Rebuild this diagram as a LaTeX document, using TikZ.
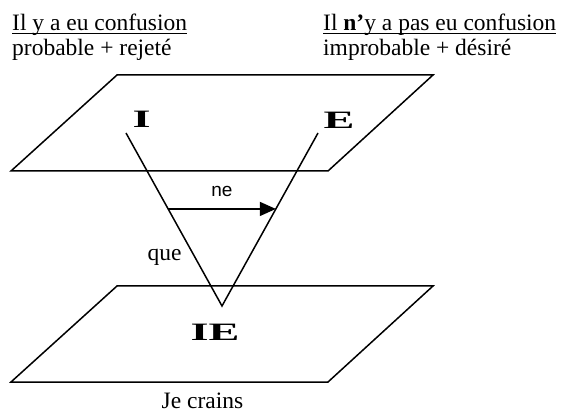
\documentclass[tikz,border=0pt]{standalone}
\usepackage{fontspec}
\setmainfont{Liberation Serif}
\setsansfont{Liberation Sans}
\usepackage{graphicx}
\usetikzlibrary{arrows.meta, calc}
\tikzset{
  plane/.style={
    draw, line width=1.5pt, line join=miter
  },
  leg/.style={
    draw, line width=1.5pt
  },
  negarr/.style={
    draw, line width=1.5pt, -{Triangle[length=16pt, width=14pt]}
  },
  caption/.style={
    inner sep=0pt, anchor=base west, font=\fontsize{23.5}{28}\selectfont
  },
  textlab/.style={
    inner sep=0pt, anchor=base, font=\fontsize{23.5}{28}\selectfont
  },
  pole/.style={
    inner sep=0pt, anchor=base, font=\fontsize{25}{30}\selectfont\bfseries
  },
  sflab/.style={
    inner sep=0pt, anchor=base, font=\sffamily\fontsize{19}{23}\selectfont
  },
  uline/.style={
    draw, line width=1.3pt
  },
}
\newcommand{\wideletters}[1]{\scalebox{1.85}[1]{#1}}

\begin{document}
\begin{tikzpicture}[x=1pt, y=-1pt]
\useasboundingbox (0,0) rectangle (563,417);

% ── Headers ──────────────────────────────────────────────────────────────
\node[caption] (hdL)  at (12,31)  {Il y a eu confusion};
\node[caption] (subL) at (12,56)  {probable + rejeté};
\node[caption] (hdR)  at (323,31) {Il \textbf{n'}y a pas eu confusion};
\node[caption] (subR) at (323,56) {improbable + désiré};
\draw[uline] ([yshift=-2.5pt]hdL.base west) -- ([yshift=-2.5pt]hdL.base east);
\draw[uline] ([yshift=-2.5pt]hdR.base west) -- ([yshift=-2.5pt]hdR.base east);

% ── Planes ───────────────────────────────────────────────────────────────
\draw[plane] (117,75) -- (433,75) -- (328,171) -- (11,171) -- cycle;
\draw[plane] (117,286) -- (433,286) -- (328,382) -- (11,382) -- cycle;

% ── Poles ────────────────────────────────────────────────────────────────
\node[pole] (poleI)  at (141.5,128) {\wideletters{I}};
\node[pole] (poleE)  at (339,129)   {\wideletters{E}};
\node[pole] (poleIE) at (215,340)   {\wideletters{IE}};
\node[textlab] (crains) at (202.5,408) {Je crains};

% ── Cone ─────────────────────────────────────────────────────────────────
\coordinate (iTop) at (126,133);
\coordinate (eTop) at (318,133);
\coordinate (apex) at (222,306);
\draw[leg] (iTop) -- (apex) -- (eTop);

% que
\node[textlab] (que) at (164.5,261) {que};

% ne
\coordinate (neL) at ($(iTop)!0.439!(apex)$);
\coordinate (neR) at ($(eTop)!0.439!(apex)$);
\draw[negarr] (neL) -- (neR);
\node[sflab] (ne) at (222,197) {ne};

\end{tikzpicture}
\end{document}
